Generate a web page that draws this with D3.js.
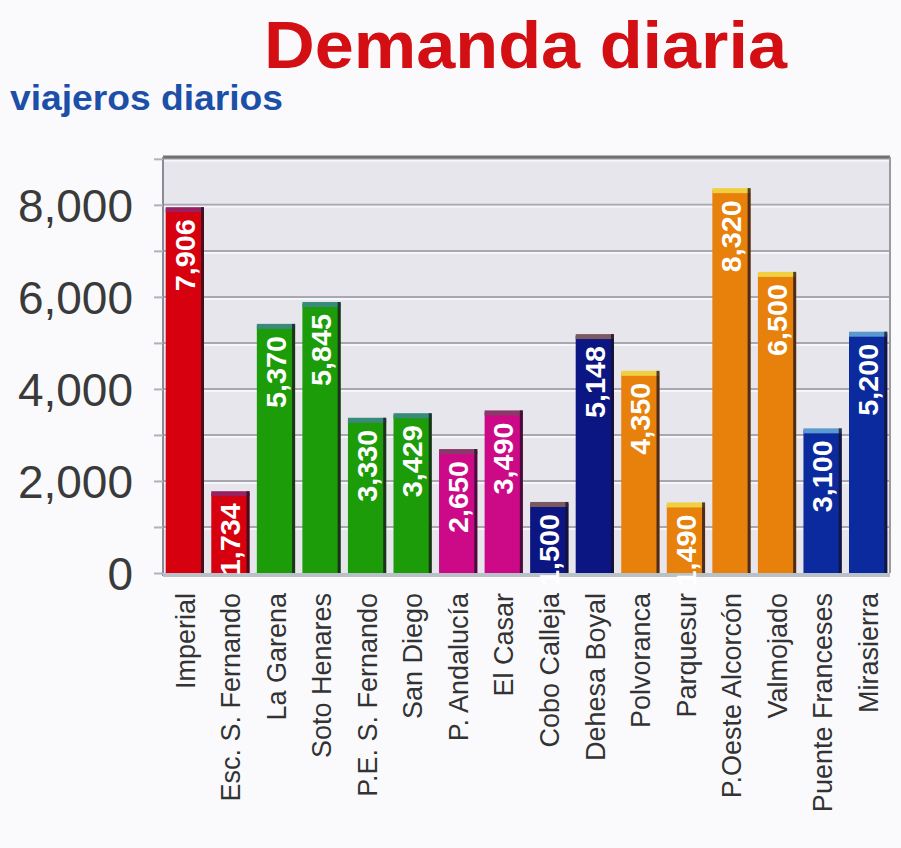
<!DOCTYPE html>
<html>
<head>
<meta charset="utf-8">
<script src="https://d3js.org/d3.v7.min.js"></script>
<style>
  body { margin: 0; background: #fafafd; }
  svg { display: block; font-family: "Liberation Sans", Arial, sans-serif; }
</style>
</head>
<body>
<svg id="chart" width="901" height="848"></svg>
<script>
const width = 901;
const height = 848;

// data
const stations = ['Imperial', 'Esc. S. Fernando', 'La Garena', 'Soto Henares',
    'P.E. S. Fernando', 'San Diego', 'P. Andalucía', 'El Casar', 'Cobo Calleja',
    'Dehesa Boyal', 'Polvoranca', 'Parquesur', 'P.Oeste Alcorcón', 'Valmojado',
    'Puente Franceses', 'Mirasierra'];
const riders = [7906, 1734, 5370, 5845, 3330, 3429, 2650, 3490, 1500, 5148,
    4350, 1490, 8320, 6500, 3100, 5200];
const groups = ['red', 'red', 'green', 'green', 'green', 'green', 'magenta', 'magenta',
    'navy', 'navy', 'orange', 'orange', 'orange', 'orange', 'blue', 'blue'];
const yTicks = [0, 2000, 4000, 6000, 8000];

const fillScale = d3.scaleOrdinal()
    .domain(['red', 'green', 'magenta', 'navy', 'orange', 'blue'])
    .range(['#d6000f', '#1c9c08', '#cc0a88', '#0b1683', '#e8800c', '#0a2a9e']);
const capScale = d3.scaleOrdinal()
    .domain(['red', 'green', 'magenta', 'navy', 'orange', 'blue'])
    .range(['#9a2060', '#3a8a7a', '#8a3a6a', '#7a5a60', '#f0d040', '#5a9ad0']);

const plot = { left: 163, right: 890, top: 157, bottom: 573 };

const svg = d3.select('#chart');

const x = d3.scaleBand()
    .domain(stations)
    .range([plot.left, plot.right])
    .paddingInner(0.16)
    .paddingOuter(0.06);

const y = d3.scaleLinear()
    .domain([0, 9040])
    .range([plot.bottom, plot.top]);

// plot background
svg.append('rect')
    .attr('x', plot.left).attr('y', plot.top)
    .attr('width', plot.right - plot.left).attr('height', plot.bottom - plot.top)
    .attr('fill', '#e6e6ec');

// gridlines every 1000
const grid = svg.append('g');
grid.selectAll('line.g')
    .data(d3.range(1000, 9001, 1000))
    .enter().append('line')
    .attr('class', 'g')
    .attr('x1', plot.left).attr('x2', plot.right)
    .attr('y1', d => y(d)).attr('y2', d => y(d))
    .attr('stroke', '#a9a8b0').attr('stroke-width', 2);
grid.selectAll('line.w')
    .data(d3.range(1000, 9001, 1000))
    .enter().append('line')
    .attr('class', 'w')
    .attr('x1', plot.left).attr('x2', plot.right)
    .attr('y1', d => y(d) + 2).attr('y2', d => y(d) + 2)
    .attr('stroke', '#f6f6fa').attr('stroke-width', 2);

// frame
svg.append('line')
    .attr('x1', plot.left).attr('x2', plot.right)
    .attr('y1', plot.top).attr('y2', plot.top)
    .attr('stroke', '#707070').attr('stroke-width', 3);
svg.append('line')
    .attr('x1', plot.right).attr('x2', plot.right)
    .attr('y1', plot.top).attr('y2', plot.bottom)
    .attr('stroke', '#9a9aa0').attr('stroke-width', 2);
svg.append('line')
    .attr('x1', plot.left).attr('x2', plot.left)
    .attr('y1', plot.top).attr('y2', plot.bottom + 3)
    .attr('stroke', '#8a8a98').attr('stroke-width', 2);
svg.append('line')
    .attr('x1', plot.left).attr('x2', plot.right)
    .attr('y1', plot.bottom + 2).attr('y2', plot.bottom + 2)
    .attr('stroke', '#b8c0c8').attr('stroke-width', 4);

// y axis
const yAxis = d3.axisLeft(y)
    .tickValues(d3.range(0, 9001, 1000))
    .tickSize(9)
    .tickFormat(d => yTicks.includes(d) ? d3.format(',')(d) : '');
const yG = svg.append('g')
    .attr('transform', 'translate(' + plot.left + ',0)')
    .call(yAxis);
yG.select('.domain').remove();
yG.selectAll('.tick line').attr('stroke', '#b0b0c0').attr('stroke-width', 2);
yG.selectAll('.tick text')
    .attr('x', -30)
    .attr('dy', '0.36em')
    .attr('fill', '#3a3a3a')
    .style('font-size', '46px');

// bars
const bar = svg.append('g').selectAll('g')
    .data(stations)
    .enter().append('g');

bar.append('rect')
    .attr('x', d => x(d))
    .attr('y', (d, i) => y(riders[i]))
    .attr('width', x.bandwidth())
    .attr('height', (d, i) => y(0) - y(riders[i]))
    .attr('fill', (d, i) => fillScale(groups[i]));

bar.append('rect')
    .attr('x', d => x(d))
    .attr('y', (d, i) => y(riders[i]) - 2)
    .attr('width', x.bandwidth())
    .attr('height', 5)
    .attr('fill', (d, i) => capScale(groups[i]));

bar.append('rect')
    .attr('x', d => x(d) + x.bandwidth() - 3)
    .attr('y', (d, i) => y(riders[i]) - 2)
    .attr('width', 3)
    .attr('height', (d, i) => y(0) - y(riders[i]) + 2)
    .attr('fill', '#1a1020')
    .attr('opacity', 0.75);

// value labels inside bars
bar.append('text')
    .attr('transform', (d, i) => 'translate(' + (x(d) + x.bandwidth() / 2) + ','
        + (y(riders[i]) + 10) + ') rotate(-90)')
    .attr('text-anchor', 'end')
    .attr('dy', '0.36em')
    .attr('textLength', 72)
    .attr('lengthAdjust', 'spacingAndGlyphs')
    .attr('fill', '#ffffff')
    .style('font-size', '27px')
    .style('font-weight', 'bold')
    .text((d, i) => d3.format(',')(riders[i]));

// category labels
svg.append('g').selectAll('text')
    .data(stations)
    .enter().append('text')
    .attr('transform', d => 'translate(' + (x(d) + x.bandwidth() / 2) + ',593) rotate(-90)')
    .attr('text-anchor', 'end')
    .attr('dy', '0.36em')
    .attr('fill', '#333')
    .style('font-size', '27px')
    .text(d => d);

// titles
svg.append('text')
    .attr('x', 264).attr('y', 68)
    .attr('textLength', 523)
    .attr('lengthAdjust', 'spacingAndGlyphs')
    .attr('fill', '#d40f14')
    .style('font-size', '66px')
    .style('font-weight', 'bold')
    .text('Demanda diaria');

svg.append('text')
    .attr('x', 10).attr('y', 110)
    .attr('textLength', 273)
    .attr('lengthAdjust', 'spacingAndGlyphs')
    .attr('fill', '#1c50a8')
    .style('font-size', '35px')
    .style('font-weight', 'bold')
    .text('viajeros diarios');
</script>
</body>
</html>
